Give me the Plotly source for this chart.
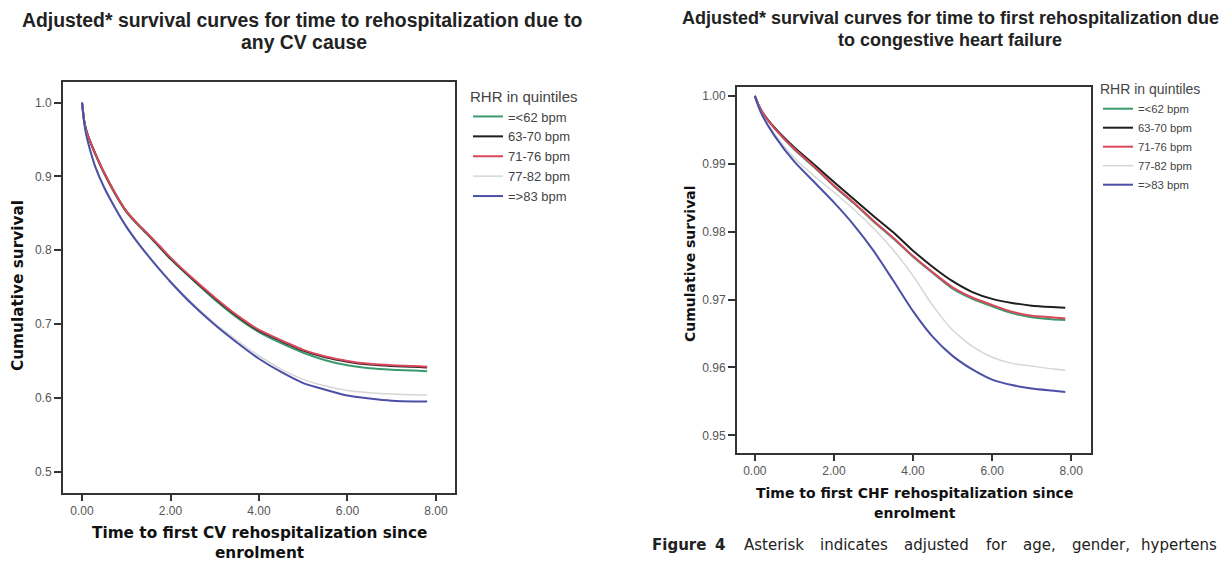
import plotly.graph_objects as go

# ---------------- data ----------------
groups = ["=<62 bpm", "63-70 bpm", "71-76 bpm", "77-82 bpm", "=>83 bpm"]
colors = ["#3a9a6e", "#1e1e1e", "#d9475a", "#d6d6d6", "#4b4fa6"]
widths = [2, 2, 2, 1.5, 2]

t_left = [0, 0.05, 0.1, 0.2, 0.3, 0.5, 0.75, 1.0, 1.25, 1.5, 1.75, 2.0, 2.5, 3.0,
          3.5, 4.0, 4.5, 5.0, 5.5, 6.0, 6.5, 7.0, 7.5, 7.8]
cv_le62 = [1.0, 0.975, 0.961, 0.944, 0.930, 0.904, 0.876, 0.852, 0.835, 0.820, 0.804, 0.788,
           0.760, 0.733, 0.709, 0.689, 0.674, 0.661, 0.651, 0.644, 0.640, 0.638, 0.637, 0.636]
cv_63_70 = [1.0, 0.975, 0.962, 0.945, 0.931, 0.905, 0.877, 0.853, 0.836, 0.821, 0.805, 0.789,
            0.761, 0.735, 0.711, 0.691, 0.677, 0.664, 0.655, 0.649, 0.645, 0.643, 0.642, 0.641]
cv_71_76 = [1.0, 0.975, 0.962, 0.945, 0.931, 0.905, 0.877, 0.853, 0.836, 0.821, 0.806, 0.790,
            0.762, 0.736, 0.712, 0.692, 0.678, 0.665, 0.656, 0.650, 0.646, 0.644, 0.643, 0.642]
cv_77_82 = [1.0, 0.973, 0.956, 0.933, 0.914, 0.886, 0.858, 0.833, 0.812, 0.793, 0.775, 0.758,
            0.728, 0.701, 0.678, 0.657, 0.639, 0.625, 0.616, 0.610, 0.607, 0.605, 0.604, 0.604]
cv_ge83 = [1.0, 0.972, 0.955, 0.932, 0.913, 0.885, 0.857, 0.832, 0.811, 0.792, 0.774, 0.757,
           0.726, 0.699, 0.675, 0.653, 0.635, 0.620, 0.611, 0.603, 0.599, 0.596, 0.595, 0.595]

t_right = [0, 0.1, 0.2, 0.5, 1.0, 1.5, 2.0, 2.5, 3.0, 3.5, 4.0, 4.5, 5.0, 5.5, 6.0,
           6.5, 7.0, 7.5, 7.85]
chf_le62 = [1.0, 0.9986, 0.9975, 0.9952, 0.9921, 0.9895, 0.9867, 0.9842, 0.9815, 0.9790,
            0.9763, 0.9739, 0.9716, 0.9701, 0.9690, 0.9680, 0.9674, 0.9671, 0.9670]
chf_63_70 = [1.0, 0.9986, 0.9975, 0.9953, 0.9924, 0.9899, 0.9873, 0.9848, 0.9823, 0.9799,
             0.9772, 0.9748, 0.9727, 0.9711, 0.9701, 0.9695, 0.9691, 0.9689, 0.9688]
chf_71_76 = [1.0, 0.9986, 0.9975, 0.9952, 0.9922, 0.9896, 0.9868, 0.9843, 0.9816, 0.9791,
             0.9764, 0.9740, 0.9718, 0.9703, 0.9692, 0.9682, 0.9676, 0.9674, 0.9672]
chf_77_82 = [1.0, 0.9984, 0.9971, 0.9944, 0.9908, 0.9882, 0.9858, 0.9833, 0.9805, 0.9773,
             0.9735, 0.9691, 0.9655, 0.9631, 0.9615, 0.9606, 0.9602, 0.9598, 0.9596]
chf_ge83 = [1.0, 0.9983, 0.9970, 0.9941, 0.9903, 0.9873, 0.9843, 0.9810, 0.9772, 0.9728,
            0.9683, 0.9645, 0.9617, 0.9597, 0.9582, 0.9574, 0.9569, 0.9566, 0.9564]

left_series = [cv_le62, cv_63_70, cv_71_76, cv_77_82, cv_ge83]
right_series = [chf_le62, chf_63_70, chf_71_76, chf_77_82, chf_ge83]

left_xticks = [0, 2, 4, 6, 8]
left_yticks = [0.5, 0.6, 0.7, 0.8, 0.9, 1.0]
right_yticks = [0.95, 0.96, 0.97, 0.98, 0.99, 1.00]

# ---------------- figure ----------------
W, H = 1221, 564
fig = go.Figure()

for name, col, w, ys in zip(groups, colors, widths, left_series):
    fig.add_trace(go.Scatter(x=t_left, y=ys, mode="lines", name=name,
                             line=dict(color=col, width=w, shape="spline", smoothing=0.6),
                             xaxis="x", yaxis="y", legend="legend"))
for name, col, w, ys in zip(groups, colors, widths, right_series):
    fig.add_trace(go.Scatter(x=t_right, y=ys, mode="lines", name=name,
                             line=dict(color=col, width=w, shape="spline", smoothing=0.6),
                             xaxis="x2", yaxis="y2", legend="legend2"))

def px(x):
    return x / W

def py(y):
    return 1 - y / H

tickfont = dict(family="Liberation Sans, Arial", size=12, color="#555")
axis_common = dict(showline=True, linecolor="#333", linewidth=2, mirror=True,
                   ticks="outside", tickcolor="#333", tickwidth=1.5,
                   showgrid=False, zeroline=False, tickfont=tickfont)

fig.update_layout(
    width=W, height=H,
    margin=dict(l=0, r=0, t=0, b=0),
    paper_bgcolor="white", plot_bgcolor="white",
    xaxis=dict(domain=[px(63), px(455)], range=[-0.43, 8.43], tickvals=left_xticks,
               tickformat=".2f", ticklen=6, anchor="y", **axis_common),
    yaxis=dict(domain=[py(493), py(82)], range=[0.471, 1.028], tickvals=left_yticks,
               tickformat=".1f", ticklen=7, anchor="x", **axis_common),
    xaxis2=dict(domain=[px(737), px(1091)], range=[-0.45, 8.5], tickvals=left_xticks,
                tickformat=".2f", ticklen=6, anchor="y2", **axis_common),
    yaxis2=dict(domain=[py(453), py(87)], range=[0.9474, 1.0013], tickvals=right_yticks,
                tickformat=".2f", ticklen=7, anchor="x2", **axis_common),
    legend=dict(x=px(468), y=py(82), xanchor="left", yanchor="top",
                title=dict(text="RHR in quintiles", font=dict(family="Liberation Sans, Arial", size=15, color="#444")),
                font=dict(family="Liberation Sans, Arial", size=13, color="#444"),
                bgcolor="rgba(0,0,0,0)", itemwidth=30, tracegroupgap=0),
    legend2=dict(x=px(1098), y=py(76), xanchor="left", yanchor="top",
                 title=dict(text="RHR in quintiles", font=dict(family="Liberation Sans, Arial", size=14, color="#444")),
                 font=dict(family="Liberation Sans, Arial", size=11.3, color="#444"),
                 bgcolor="rgba(0,0,0,0)", itemwidth=30, tracegroupgap=0),
    showlegend=True,
)

def tf(size):
    return dict(family="Liberation Sans, Arial", size=size, color="#222")

axt_l = dict(family="DejaVu Sans, Verdana", size=15.3, color="#111")
axt_r = dict(family="DejaVu Sans, Verdana", size=14, color="#111")
cap_font = dict(family="DejaVu Sans", size=15, color="#222")

annotations = [
    dict(text="<b>Adjusted* survival curves for time to rehospitalization due to</b>",
         x=px(302), y=py(20), font=tf(19.4)),
    dict(text="<b>any CV cause</b>", x=px(304), y=py(42), font=tf(19.4)),
    dict(text="<b>Adjusted* survival curves for time to first rehospitalization due</b>",
         x=px(950), y=py(18), font=tf(18)),
    dict(text="<b>to congestive heart failure</b>", x=px(950), y=py(40), font=tf(18)),
    dict(text="<b>Time to first CV rehospitalization since</b>", x=px(259), y=py(533), font=axt_l),
    dict(text="<b>enrolment</b>", x=px(259), y=py(553), font=axt_l),
    dict(text="<b>Time to first CHF rehospitalization since</b>", x=px(914), y=py(493), font=axt_r),
    dict(text="<b>enrolment</b>", x=px(915), y=py(513), font=axt_r),
    dict(text="<b>Cumulative survival</b>", x=px(18), y=py(286), textangle=-90, font=axt_l),
    dict(text="<b>Cumulative survival</b>", x=px(690), y=py(264), textangle=-90, font=axt_r),
]
for a in annotations:
    a.update(xanchor="center", yanchor="middle")

# caption words, justified across the column; the line is cut at the page edge
cap_words = ["<b>Figure</b>", "<b>4</b>", "Asterisk", "indicates", "adjusted", "for", "age,",
             "gender,"]
cap_x = [650, 713, 742, 818, 902, 984, 1021, 1070]
for wtxt, xx in zip(cap_words, cap_x):
    annotations.append(dict(text=wtxt, x=px(xx), y=py(545), xanchor="left",
                            yanchor="middle", font=cap_font))
annotations.append(dict(text="hypertens", x=px(1219), y=py(545), xanchor="right",
                        yanchor="middle", font=cap_font))

for a in annotations:
    a.update(xref="paper", yref="paper", showarrow=False, align="center")
fig.update_layout(annotations=annotations)

fig.write_html("out.html")
